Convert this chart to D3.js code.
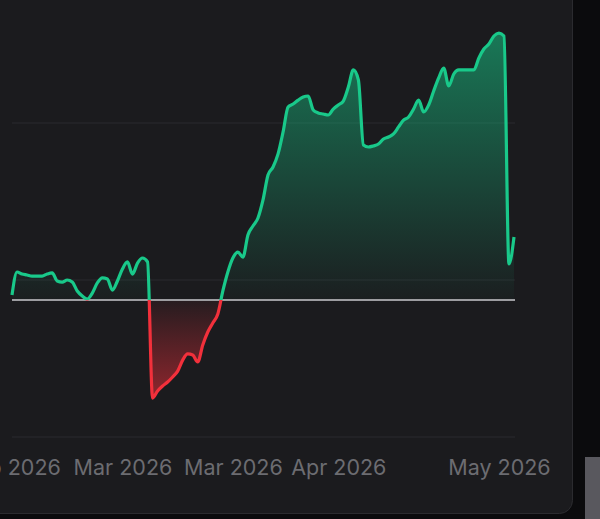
<!DOCTYPE html>
<html><head><meta charset="utf-8">
<script src="https://cdn.jsdelivr.net/npm/d3@7"></script>
<style>
html,body{margin:0;padding:0;background:#0b0b0d;}
svg{display:block;}
</style></head><body>
<svg id="chart" width="600" height="519"></svg>
<script>
const values = [
 109.04,110.51,110.38,110.32,110.25,110.25,110.25,110.38,110.45,109.94,
 109.87,110.00,109.87,109.30,108.98,108.79,109.17,109.81,110.13,110.06,
 109.36,109.94,110.70,111.15,110.38,111.08,111.40,111.15,102.48,102.93,
 103.25,103.50,103.82,104.20,104.90,105.29,105.22,104.78,105.86,106.69,
 107.26,107.83,109.30,110.51,111.40,111.78,111.46,112.87,113.44,113.95,
 115.10,116.69,117.20,118.03,119.43,121.02,121.21,121.46,121.66,121.72,
 120.83,120.64,120.57,120.51,120.89,121.15,121.40,122.29,123.38,122.74,
 118.60,118.47,118.54,118.66,118.98,119.11,119.30,119.75,120.19,120.38,
 120.89,121.46,120.70,121.15,122.04,122.87,123.50,122.36,123.12,123.38,
 123.38,123.38,123.38,124.14,124.71,125.03,125.54,125.73,125.54,111.02,
 112.74
];
const baselineValue = 108.73;
const gridValues = [100, 110, 120];
const tickIndex = [0, 22, 44, 65, 97];
const tickLabels = ["Feb 2026", "Mar 2026", "Mar 2026", "Apr 2026", "May 2026"];

const svg = d3.select("#chart");
const W = 600, H = 519;

// card
svg.append("rect").attr("x", -20).attr("y", -20).attr("width", 592.5).attr("height", 533.5)
  .attr("rx", 13).attr("fill", "#1b1b1e").attr("stroke", "#2b2b2f").attr("stroke-width", 1);
svg.append("rect").attr("x", 585).attr("y", 457).attr("width", 15).attr("height", 62).attr("fill", "#59585e");

const x = d3.scaleLinear().domain([0, values.length - 1]).range([12, 514]);
const y = d3.scaleLinear().domain([100, 120]).range([437, 123]);
const y0 = y(baselineValue);

const defs = svg.append("defs");
const gGrad = defs.append("linearGradient").attr("id", "gGrad").attr("gradientUnits", "userSpaceOnUse")
  .attr("x1", 0).attr("x2", 0).attr("y1", y(d3.max(values))).attr("y2", y0);
gGrad.append("stop").attr("offset", 0).attr("stop-color", "#17c485").attr("stop-opacity", 0.55);
gGrad.append("stop").attr("offset", 1).attr("stop-color", "#17c485").attr("stop-opacity", 0.02);
const rGrad = defs.append("linearGradient").attr("id", "rGrad").attr("gradientUnits", "userSpaceOnUse")
  .attr("x1", 0).attr("x2", 0).attr("y1", y0).attr("y2", y(d3.min(values)));
rGrad.append("stop").attr("offset", 0).attr("stop-color", "#ef2f3a").attr("stop-opacity", 0.05);
rGrad.append("stop").attr("offset", 1).attr("stop-color", "#ef2f3a").attr("stop-opacity", 0.55);

defs.append("clipPath").attr("id", "above").append("rect")
  .attr("x", 0).attr("y", 0).attr("width", W).attr("height", y0);
defs.append("clipPath").attr("id", "below").append("rect")
  .attr("x", 0).attr("y", y0).attr("width", W).attr("height", H - y0);

// grid
svg.append("g").selectAll("line").data(gridValues).join("line")
  .attr("x1", 12).attr("x2", 515).attr("y1", d => y(d)).attr("y2", d => y(d))
  .attr("stroke", "#2a2a2e").attr("stroke-width", 1);

const curve = d3.curveMonotoneX;
const area = d3.area().x((d, i) => x(i)).y0(y0).y1(d => y(d)).curve(curve);
const line = d3.line().x((d, i) => x(i)).y(d => y(d)).curve(curve);

svg.append("path").datum(values).attr("d", area).attr("fill", "url(#gGrad)").attr("clip-path", "url(#above)");
svg.append("path").datum(values).attr("d", area).attr("fill", "url(#rGrad)").attr("clip-path", "url(#below)");

// baseline
svg.append("line").attr("x1", 12).attr("x2", 515).attr("y1", y0).attr("y2", y0)
  .attr("stroke", "#9d9da1").attr("stroke-width", 2);

svg.append("path").datum(values).attr("d", line).attr("fill", "none")
  .attr("stroke", "#19c98a").attr("stroke-width", 3.2).attr("stroke-linejoin", "round")
  .attr("clip-path", "url(#above)");
svg.append("path").datum(values).attr("d", line).attr("fill", "none")
  .attr("stroke", "#f2303b").attr("stroke-width", 3.2).attr("stroke-linejoin", "round")
  .attr("clip-path", "url(#below)");

// x axis
const axis = d3.axisBottom(x).tickValues(tickIndex).tickFormat((d, i) => tickLabels[i]).tickSize(0).tickPadding(0);
const ax = svg.append("g").attr("transform", "translate(0,455)").call(axis);
ax.select(".domain").remove();
ax.selectAll("text").attr("fill", "#6c6c71").attr("font-size", 21.5)
  .attr("font-family", "Inter, 'Noto Sans', sans-serif").attr("dy", "0.95em");
</script>
</body></html>
